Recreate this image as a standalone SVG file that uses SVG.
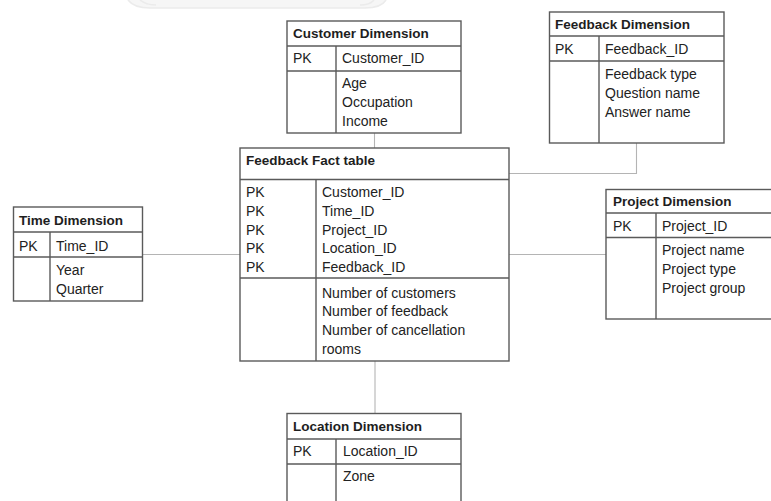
<svg xmlns="http://www.w3.org/2000/svg" width="771" height="501" viewBox="0 0 771 501">
  <style>
    .box { fill: #ffffff; stroke: #5a5a5a; stroke-width: 1.4; }
    .rule { stroke: #5a5a5a; stroke-width: 1.4; fill: none; }
    .conn { stroke: #b4b4b4; stroke-width: 1.1; fill: none; }
    .title { font-family: "Liberation Sans", Arial, sans-serif; font-weight: bold; font-size: 13.5px; fill: #1e1e1e; }
    .txt { font-family: "Liberation Sans", Arial, sans-serif; font-size: 14px; fill: #222222; }
  </style>
  <rect width="771" height="501" fill="#ffffff"/>

  <!-- faint seal at the top edge -->
  <g id="seal" fill="none" stroke="#ebebeb" stroke-width="1.6">
    <path d="M128,0 Q134,8 150,8 L365,8 Q381,8 386,0" fill="#f6f6f6"/>
    <path d="M140,0 Q146,5 156,5"/>
    <path d="M360,5 Q370,5 374,0"/>
  </g>

  <!-- connectors between the fact table and its dimensions -->
  <g id="connectors">
    <line class="conn" x1="374.5" y1="133" x2="374.5" y2="148"/>
    <polyline class="conn" points="636.5,143 636.5,173.5 509,173.5"/>
    <line class="conn" x1="142" y1="254.5" x2="240" y2="254.5"/>
    <line class="conn" x1="509" y1="254.5" x2="606" y2="254.5"/>
    <line class="conn" x1="375" y1="361" x2="375" y2="413"/>
  </g>

  <!-- Customer Dimension -->
  <g id="customer-dimension">
    <rect class="box" x="287" y="21" width="174" height="112"/>
    <line class="rule" x1="287" y1="46" x2="461" y2="46"/>
    <line class="rule" x1="287" y1="71" x2="461" y2="71"/>
    <line class="rule" x1="336" y1="46" x2="336" y2="133"/>
    <text class="title" x="293" y="38">Customer Dimension</text>
    <text class="txt" x="293" y="63">PK</text>
    <text class="txt" x="342" y="63">Customer_ID</text>
    <text class="txt" x="342" y="88">Age</text>
    <text class="txt" x="342" y="107">Occupation</text>
    <text class="txt" x="342" y="126">Income</text>
  </g>

  <!-- Feedback Dimension -->
  <g id="feedback-dimension">
    <rect class="box" x="549.5" y="12" width="174.5" height="131"/>
    <line class="rule" x1="549.5" y1="36" x2="724" y2="36"/>
    <line class="rule" x1="549.5" y1="61" x2="724" y2="61"/>
    <line class="rule" x1="599" y1="36" x2="599" y2="143"/>
    <text class="title" x="555" y="29">Feedback Dimension</text>
    <text class="txt" x="555" y="54">PK</text>
    <text class="txt" x="605" y="54">Feedback_ID</text>
    <text class="txt" x="605" y="79">Feedback type</text>
    <text class="txt" x="605" y="98">Question name</text>
    <text class="txt" x="605" y="117">Answer name</text>
  </g>

  <!-- Feedback Fact table -->
  <g id="feedback-fact-table">
    <rect class="box" x="240" y="148" width="269" height="213"/>
    <line class="rule" x1="240" y1="179.5" x2="509" y2="179.5"/>
    <line class="rule" x1="240" y1="278" x2="509" y2="278"/>
    <line class="rule" x1="316" y1="179.5" x2="316" y2="361"/>
    <text class="title" x="246" y="165">Feedback Fact table</text>
    <text class="txt" x="246" y="197">PK</text>
    <text class="txt" x="246" y="216">PK</text>
    <text class="txt" x="246" y="234.5">PK</text>
    <text class="txt" x="246" y="253">PK</text>
    <text class="txt" x="246" y="272">PK</text>
    <text class="txt" x="322" y="197">Customer_ID</text>
    <text class="txt" x="322" y="216">Time_ID</text>
    <text class="txt" x="322" y="234.5">Project_ID</text>
    <text class="txt" x="322" y="253">Location_ID</text>
    <text class="txt" x="322" y="272">Feedback_ID</text>
    <text class="txt" x="322" y="298">Number of customers</text>
    <text class="txt" x="322" y="316">Number of feedback</text>
    <text class="txt" x="322" y="335">Number of cancellation</text>
    <text class="txt" x="322" y="353.5">rooms</text>
  </g>

  <!-- Time Dimension -->
  <g id="time-dimension">
    <rect class="box" x="13.5" y="207" width="129" height="94"/>
    <line class="rule" x1="13.5" y1="232" x2="142.5" y2="232"/>
    <line class="rule" x1="13.5" y1="257" x2="142.5" y2="257"/>
    <line class="rule" x1="50" y1="232" x2="50" y2="301"/>
    <text class="title" x="19" y="225">Time Dimension</text>
    <text class="txt" x="19" y="251">PK</text>
    <text class="txt" x="56" y="251">Time_ID</text>
    <text class="txt" x="56" y="275">Year</text>
    <text class="txt" x="56" y="293.5">Quarter</text>
  </g>

  <!-- Project Dimension -->
  <g id="project-dimension">
    <rect class="box" x="606" y="189.5" width="172" height="129.5"/>
    <line class="rule" x1="606" y1="213" x2="778" y2="213"/>
    <line class="rule" x1="606" y1="237.5" x2="778" y2="237.5"/>
    <line class="rule" x1="656" y1="213" x2="656" y2="319"/>
    <text class="title" x="613" y="206">Project Dimension</text>
    <text class="txt" x="613" y="231">PK</text>
    <text class="txt" x="662" y="231">Project_ID</text>
    <text class="txt" x="662" y="255">Project name</text>
    <text class="txt" x="662" y="274">Project type</text>
    <text class="txt" x="662" y="293">Project group</text>
  </g>

  <!-- Location Dimension -->
  <g id="location-dimension">
    <rect class="box" x="287" y="413.5" width="174" height="100"/>
    <line class="rule" x1="287" y1="439" x2="461" y2="439"/>
    <line class="rule" x1="287" y1="464" x2="461" y2="464"/>
    <line class="rule" x1="336" y1="439" x2="336" y2="513"/>
    <text class="title" x="293" y="431">Location Dimension</text>
    <text class="txt" x="293" y="456">PK</text>
    <text class="txt" x="343" y="456">Location_ID</text>
    <text class="txt" x="343" y="481">Zone</text>
  </g>
</svg>
